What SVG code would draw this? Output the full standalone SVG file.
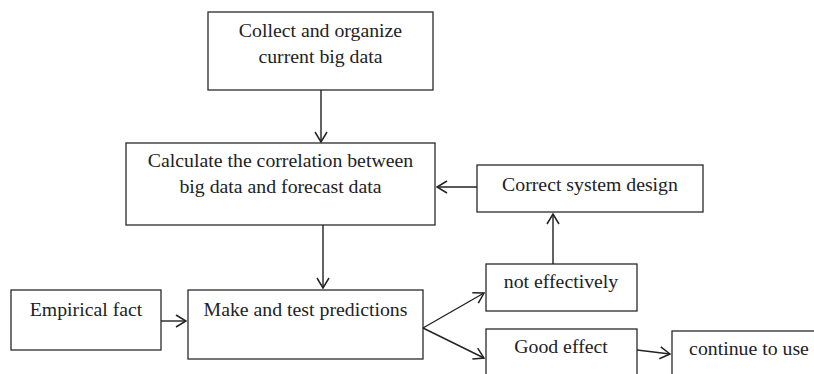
<svg xmlns="http://www.w3.org/2000/svg" width="814" height="374" viewBox="0 0 814 374">
<style>
.box{fill:#fff;stroke:#2a2a2a;stroke-width:1.3}
.t{font-family:"Liberation Serif","Times New Roman",serif;font-size:19.8px;fill:#222;text-anchor:middle}
.c{fill:none;stroke:#222;stroke-width:1.4}
</style>
<defs>
<marker id="ah" viewBox="0 0 12 14" refX="11" refY="7" markerWidth="12" markerHeight="14" markerUnits="userSpaceOnUse" orient="auto">
<path d="M1,1 L11,7 L1,13" fill="none" stroke="#222" stroke-width="1.5"/>
</marker>
</defs>
<rect width="814" height="374" fill="#fff"/>
<g id="n1"><rect class="box" x="208" y="12" width="225" height="78"/><text class="t" x="320.5" y="37">Collect and organize</text><text class="t" x="320.5" y="63">current big data</text></g>
<g id="n2"><rect class="box" x="126" y="143" width="309" height="82"/><text class="t" x="280.5" y="167">Calculate the correlation between</text><text class="t" x="280.5" y="193">big data and forecast data</text></g>
<g id="n3"><rect class="box" x="11" y="290" width="150" height="60"/><text class="t" x="86" y="316">Empirical fact</text></g>
<g id="n4"><rect class="box" x="188" y="290" width="235" height="69"/><text class="t" x="305.5" y="316">Make and test predictions</text></g>
<g id="n5"><rect class="box" x="477" y="165" width="226" height="47"/><text class="t" x="590" y="191">Correct system design</text></g>
<g id="n6"><rect class="box" x="486" y="264" width="151" height="47"/><text class="t" x="561" y="288">not effectively</text></g>
<g id="n7"><rect class="box" x="486" y="329" width="151" height="50"/><text class="t" x="561" y="353">Good effect</text></g>
<g id="n8"><rect class="box" x="672" y="331" width="150" height="50"/><text class="t" x="749" y="355">continue to use</text></g>
<g id="connectors">
<line class="c" x1="321" y1="90" x2="321" y2="142" marker-end="url(#ah)"/>
<line class="c" x1="323" y1="225" x2="323" y2="288" marker-end="url(#ah)"/>
<line class="c" x1="477" y1="187" x2="437" y2="187" marker-end="url(#ah)"/>
<line class="c" x1="553" y1="264" x2="553" y2="214" marker-end="url(#ah)"/>
<line class="c" x1="161" y1="321" x2="186" y2="321" marker-end="url(#ah)"/>
<line class="c" x1="423" y1="328" x2="484" y2="293" marker-end="url(#ah)"/>
<line class="c" x1="423" y1="328" x2="484" y2="358" marker-end="url(#ah)"/>
<line class="c" x1="637" y1="350" x2="670" y2="354" marker-end="url(#ah)"/>
</g>
</svg>
